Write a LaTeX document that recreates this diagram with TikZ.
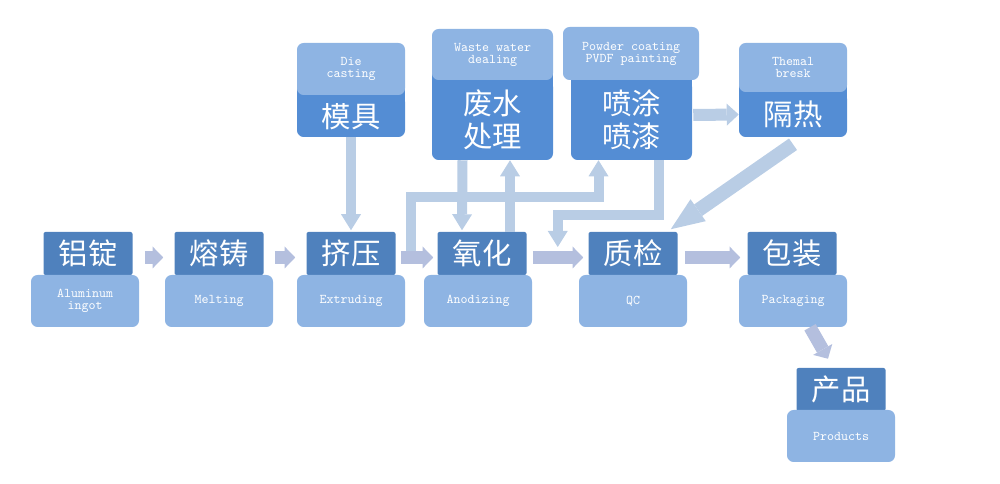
\documentclass[tikz,border=0pt]{standalone}
\usepackage{fontspec}
\newfontfamily\cjk{Noto Sans CJK SC}
\usetikzlibrary{arrows.meta}

\definecolor{maindark}{RGB}{79,129,189}
\definecolor{topdark}{RGB}{84,141,212}
\definecolor{lightbox}{RGB}{142,180,227}
\definecolor{flowarr}{RGB}{180,191,222}
\definecolor{sidearr}{RGB}{185,205,229}

\begin{document}
\begin{tikzpicture}[x=0.75pt,y=-0.75pt]
\pgfmathsetmacro{\RY}{253.5}
\pgfmathsetmacro{\LY}{301}

\tikzset{
  cn/.style={fill=maindark, text=white, font=\cjk\fontsize{22}{24.75}\selectfont,
  align=center, inner sep=0pt, rounded corners=1.5pt,
  minimum width=66.75pt, minimum height=32.25pt},
  en/.style={fill=lightbox, text=white, font=\ttfamily\fontsize{10}{9}\selectfont,
  align=center, inner sep=0pt, rounded corners=5pt,
  minimum width=81pt, minimum height=39pt},
  topcn/.style={cn, fill=topdark, rounded corners=5pt, minimum width=81pt},
  flow/.style={draw=flowarr, line width=9.75pt,
  -{Triangle[length=8pt,width=16.5pt,line width=0pt]}},
  feed/.style={draw=sidearr, line width=7.5pt,
  -{Triangle[length=12pt,width=15pt,line width=0pt]}},
}

\useasboundingbox (0,0) rectangle (1000,484);

% main row
\node[cn] (ingot) at (88, \RY) {铝锭};
\node[en] (ingote) at (85, \LY) {Aluminum\\ingot};
\node[cn] (melt) at (219, \RY) {熔铸};
\node[en] (melte) at (219, \LY) {Melting};
\node[cn] (extr) at (351, \RY) {挤压};
\node[en] (extre) at (351, \LY) {Extruding};
\node[cn] (anod) at (482, \RY) {氧化};
\node[en] (anode) at (478, \LY) {Anodizing};
\node[cn] (qc) at (633, \RY) {质检};
\node[en] (qce) at (633, \LY) {QC};
\node[cn] (pack) at (792, \RY) {包装};
\node[en] (packe) at (793, \LY) {Packaging};
\node[cn] (prod) at (841, 389.5) {产品};
\node[en] (prode) at (841, 436) {Products};

% top row
\node[topcn, minimum height=31.5pt] (die) at (351, 116) {模具};
\node[topcn, minimum height=60pt, minimum width=90.75pt] (waste) at (492.5, 120) {废水\\处理};
\node[topcn, minimum height=60pt, minimum width=90.75pt] (paint) at (631.5, 120) {喷涂\\喷漆};
\node[topcn, minimum height=33.75pt] (tb) at (793, 114.5) {隔热};
\foreach \n in {die, waste, paint, tb}
  \fill[topdark] ([shift={(0,8)}]\n.north west) rectangle ([shift={(0,-10)}]\n.north east);
\node[en] (diee) at (351, 69) {Die\\casting};
\node[en, minimum width=90.75pt, minimum height=38.25pt] (wastee) at (492.5, 54.5) {Waste water\\dealing};
\node[en, minimum width=102pt, minimum height=39.75pt] (painte) at (631, 53.5) {Powder coating\\PVDF painting};
\node[en, minimum height=36.75pt] (tbe) at (793, 67.5) {Themal\\bresk};

% side connectors
\coordinate (split) at ([shift={(15,4)}]extr.east);
\draw[feed] (die.south) -- ([shift={(0,-1.5)}]extr.north);
\draw[feed] ([shift={(-30,0)}]waste.south) -- ([shift={(-20,-1.5)}]anod.north);
\draw[feed] ([shift={(28,0)}]anod.north) -- ([shift={(17.5,0)}]waste.south);
\draw[feed] (split) -- ++(0,-60.5) -| ([shift={(-33,0)}]paint.south);
\draw[feed] ([shift={(27,0)}]paint.south) -- ++(0,55) -| ([shift={(-30.5,-6.5)}]qc.west);
\draw[feed, line width=9pt, -{Triangle[length=9pt,width=16.5pt,line width=0pt]}]
  ([shift={(1,-5)}]paint.east) -- (tb.west);
\draw[feed, line width=10.5pt, -{Triangle[length=25pt,width=20pt,line width=0pt]}]
  ([shift={(0,7)}]tb.south) -- ([shift={(-7,-2.5)}]qc.north east);

% main flow
\draw[flow] ([shift={(12,4)}]ingot.east) -- ([shift={(-11,4)}]melt.west);
\draw[flow] ([shift={(11,4)}]melt.east) -- ([shift={(-11,4)}]extr.west);
\draw[flow] ([shift={(5,4)}]extr.east) -- ([shift={(-4,4)}]anod.west);
\draw[flow] ([shift={(6,4)}]anod.east) -- ([shift={(-5,4)}]qc.west);
\draw[flow] ([shift={(7,4)}]qc.east) -- ([shift={(-7,4)}]pack.west);
\draw[flow] ([shift={(17,0)}]packe.south) -- ([shift={(-13,-9)}]prod.north);
\end{tikzpicture}
\end{document}
